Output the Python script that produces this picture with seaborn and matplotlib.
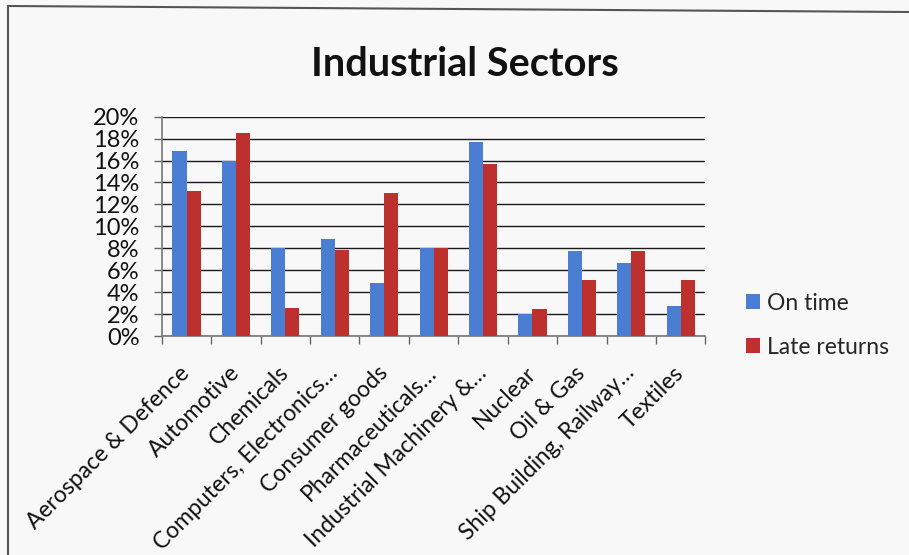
import matplotlib
matplotlib.use("Agg")
import matplotlib.pyplot as plt
from matplotlib.lines import Line2D
from matplotlib.patches import Patch
import pandas as pd
import seaborn as sns

# Share of returns per industrial sector (%)
sectors = [
    "Aerospace & Defence",
    "Automotive",
    "Chemicals",
    "Computers, Electronics\u2026",
    "Consumer goods",
    "Pharmaceuticals\u2026",
    "Industrial Machinery &\u2026",
    "Nuclear",
    "Oil & Gas",
    "Ship Building, Railway\u2026",
    "Textiles",
]
on_time = [16.9, 16.0, 8.0, 8.85, 4.85, 8.0, 17.7, 2.0, 7.8, 6.7, 2.8]
late_returns = [13.2, 18.5, 2.6, 7.9, 13.0, 8.0, 15.7, 2.5, 5.1, 7.8, 5.1]
series_names = ["On time", "Late returns"]
y_ticks = [0, 2, 4, 6, 8, 10, 12, 14, 16, 18, 20]

colors = ["#4A7ED3", "#BE302E"]
bg = "#F8F8F8"

df = pd.DataFrame({
    "sector": sectors * 2,
    "share": on_time + late_returns,
    "series": [series_names[0]] * len(sectors) + [series_names[1]] * len(sectors),
})

sns.set_theme(style="white")
plt.rcParams["font.family"] = ["Lato", "DejaVu Sans"]

fig = plt.figure(figsize=(9.09, 5.55), dpi=100, facecolor=bg)
ax = fig.add_axes([0.178, 0.394, 0.598, 0.396])
ax.set_facecolor(bg)

sns.barplot(
    data=df, x="sector", y="share", hue="series", order=sectors,
    hue_order=series_names, palette=colors, width=0.57, dodge=True,
    saturation=1, errorbar=None, ax=ax, legend=False, zorder=3,
)
for p in ax.patches:
    p.set_linewidth(0)

ax.set_xlim(-0.5, len(sectors) - 0.5)
ax.set_ylim(0, 20)
ax.set_yticks(y_ticks)
ax.set_yticklabels([f"{v}%" for v in y_ticks], fontsize=17, color="#111111")
ax.yaxis.grid(True, color="#1a1a1a", linewidth=1.0, zorder=0)
ax.set_axisbelow(True)

# category labels at the bar groups, tick marks between the groups
ax.set_xticks(range(len(sectors)))
ax.set_xticklabels(sectors, rotation=45, ha="right", va="center",
                   rotation_mode="anchor", fontsize=16.5, color="#111111")
ax.tick_params(axis="x", which="major", length=0, pad=24)
ax.set_xticks([i - 0.5 for i in range(len(sectors) + 1)], minor=True)
ax.tick_params(axis="x", which="minor", bottom=True, length=6, width=1,
               color="#666666", direction="out")
ax.tick_params(axis="y", which="major", left=True, length=6, width=1,
               color="#666666", direction="out", pad=10)

ax.set_xlabel("")
ax.set_ylabel("")
for side in ["top", "right"]:
    ax.spines[side].set_visible(False)
for side in ["left", "bottom"]:
    ax.spines[side].set_color("#777777")
    ax.spines[side].set_linewidth(1.2)

fig.text(0.511, 0.884, "Industrial Sectors", ha="center", va="center",
         fontsize=28.5, fontweight="bold", color="#111111")

handles = [Patch(facecolor=c, edgecolor="none") for c in colors]
fig.legend(handles, series_names, loc="center left",
           bbox_to_anchor=(0.821, 0.414), frameon=False, fontsize=16.5,
           handlelength=0.6, handleheight=0.6, handletextpad=0.3,
           labelspacing=1.0, borderpad=0, borderaxespad=0)

# outer frame of the chart area
fig.add_artist(Line2D([8 / 909, 8 / 909], [0, 1 - 6 / 555],
                      transform=fig.transFigure, color="#555555", lw=1.5))
fig.add_artist(Line2D([8 / 909, 1], [1 - 6 / 555, 1 - 12 / 555],
                      transform=fig.transFigure, color="#555555", lw=1.5))

fig.savefig("out.png", dpi=100, facecolor=bg)
